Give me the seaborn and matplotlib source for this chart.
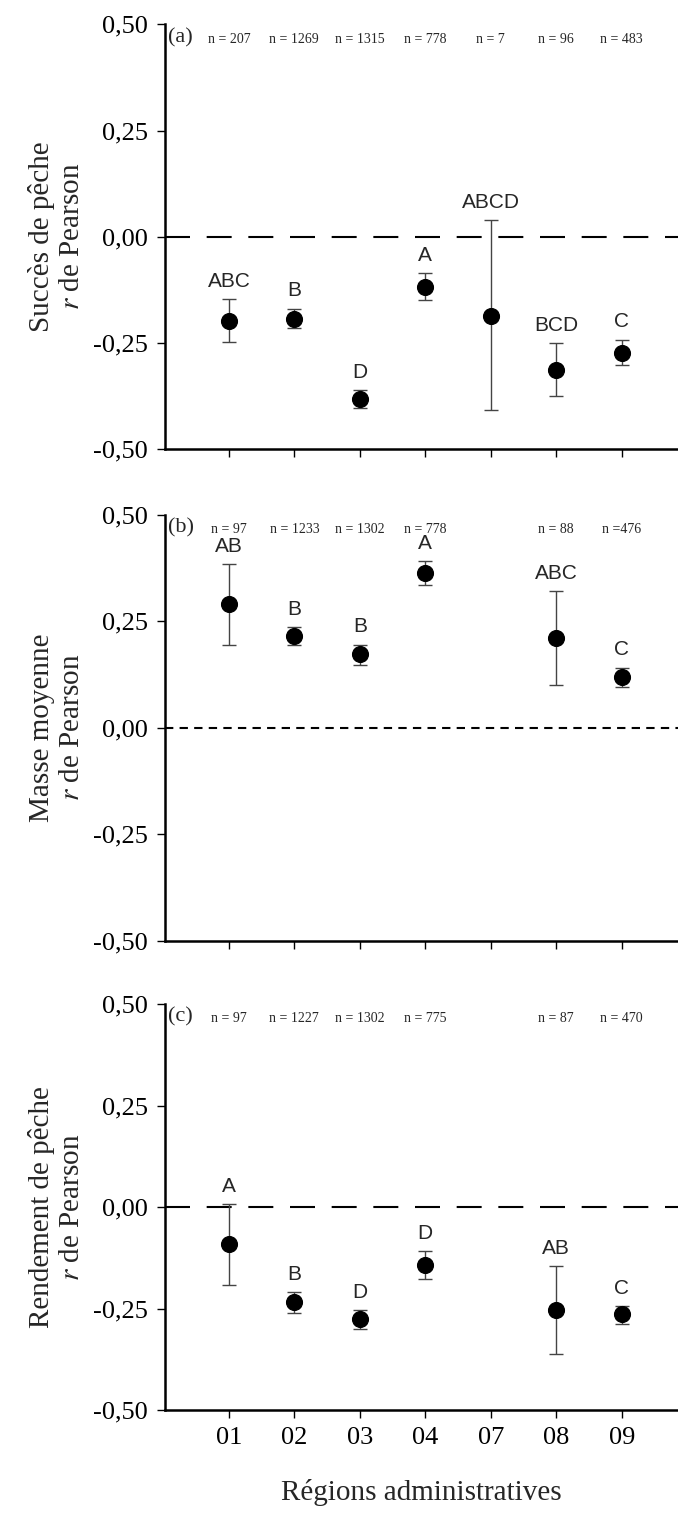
import numpy as np
import pandas as pd
import matplotlib
matplotlib.use("Agg")
import matplotlib.pyplot as plt
import seaborn as sns

regions = ['01', '02', '03', '04', '07', '08', '09']

# panel a - succes de peche
a_r = [-0.198, -0.194, -0.382, -0.118, -0.186, -0.314, -0.273]
a_hi = [-0.147, -0.170, -0.362, -0.086, 0.039, -0.251, -0.243]
a_lo = [-0.247, -0.216, -0.403, -0.149, -0.409, -0.376, -0.302]
a_let = ['ABC', 'B', 'D', 'A', 'ABCD', 'BCD', 'C']
a_n = ['n = 207', 'n = 1269', 'n = 1315', 'n = 778', 'n = 7', 'n = 96', 'n = 483']

# panel b - masse moyenne (no 07)
b_reg = ['01', '02', '03', '04', '08', '09']
b_r = [0.290, 0.215, 0.172, 0.362, 0.210, 0.118]
b_hi = [0.383, 0.235, 0.195, 0.390, 0.320, 0.140]
b_lo = [0.195, 0.195, 0.148, 0.335, 0.100, 0.095]
b_let = ['AB', 'B', 'B', 'A', 'ABC', 'C']
b_n = ['n = 97', 'n = 1233', 'n = 1302', 'n = 778', 'n = 88', 'n =476']

# panel c - rendement de peche (no 07)
c_reg = ['01', '02', '03', '04', '08', '09']
c_r = [-0.092, -0.235, -0.276, -0.144, -0.254, -0.264]
c_hi = [0.008, -0.209, -0.253, -0.109, -0.145, -0.243]
c_lo = [-0.192, -0.261, -0.300, -0.178, -0.362, -0.287]
c_let = ['A', 'B', 'D', 'D', 'AB', 'C']
c_n = ['n = 97', 'n = 1227', 'n = 1302', 'n = 775', 'n = 87', 'n = 470']

sns.set_style("ticks")
plt.rcParams['font.family'] = ['Liberation Serif', 'DejaVu Serif']
plt.rcParams['mathtext.fontset'] = 'stix'

fig = plt.figure(figsize=(6.78, 15.27), dpi=100)
boxes = [(0.706, 0.984), (0.384, 0.663), (0.0766, 0.3425)]
panels = [
    (regions, a_r, a_hi, a_lo, a_let, a_n, '(a)', 'Succès de pêche', (12, 8)),
    (b_reg, b_r, b_hi, b_lo, b_let, b_n, '(b)', 'Masse moyenne', (4, 3)),
    (c_reg, c_r, c_hi, c_lo, c_let, c_n, '(c)', 'Rendement de pêche', (12, 8)),
]

for (bot, top), (reg, r, hi, lo, let, nn, tag, lab, dash) in zip(boxes, panels):
    ax = fig.add_axes([0.243, bot, 0.757, top - bot])
    pos = [regions.index(g) for g in reg]
    df = pd.DataFrame({'x': pos, 'r': r, 'hi': hi, 'lo': lo})
    ax.axhline(0, color='black', lw=1.5, ls=(0, dash), zorder=1)
    ax.errorbar(df['x'], df['r'],
                yerr=[df['r'] - df['lo'], df['hi'] - df['r']],
                fmt='none', ecolor='#444444', elinewidth=1, capsize=5, capthick=1, zorder=2)
    sns.scatterplot(data=df, x='x', y='r', ax=ax, s=130, color='black',
                    edgecolor='black', zorder=3, legend=False)
    for x, h, t in zip(pos, hi, let):
        ax.text(x, h + 0.02, t, ha='center', va='bottom', fontsize=15,
                family=['Liberation Sans', 'DejaVu Sans'])
    for x, t in zip(pos, nn):
        ax.text(x, 0.465, t, ha='center', va='center', fontsize=10)
    ax.text(-0.93, 0.468, tag, ha='left', va='center', fontsize=16)
    ax.set_xlim(-0.98, 6.86)
    ax.set_ylim(-0.5, 0.5)
    ax.set_yticks([-0.5, -0.25, 0, 0.25, 0.5])
    ax.set_yticklabels(['-0,50', '-0,25', '0,00', '0,25', '0,50'], fontsize=19)
    ax.set_xticks(range(len(regions)))
    if tag == '(c)':
        ax.set_xticklabels(regions, fontsize=19)
        ax.set_xlabel('Régions administratives', fontsize=21, labelpad=22)
    else:
        ax.set_xticklabels([])
        ax.set_xlabel('')
    ax.set_ylabel(lab + '\n' + r'$\mathit{r}$ de Pearson', fontsize=21, labelpad=6)
    ax.tick_params(direction='out', length=6, width=1, pad=6, colors='black')
    sns.despine(ax=ax)
    for s in ('left', 'bottom'):
        ax.spines[s].set_linewidth(1.8)
        ax.spines[s].set_color('black')

fig.savefig('out.png', dpi=100)
